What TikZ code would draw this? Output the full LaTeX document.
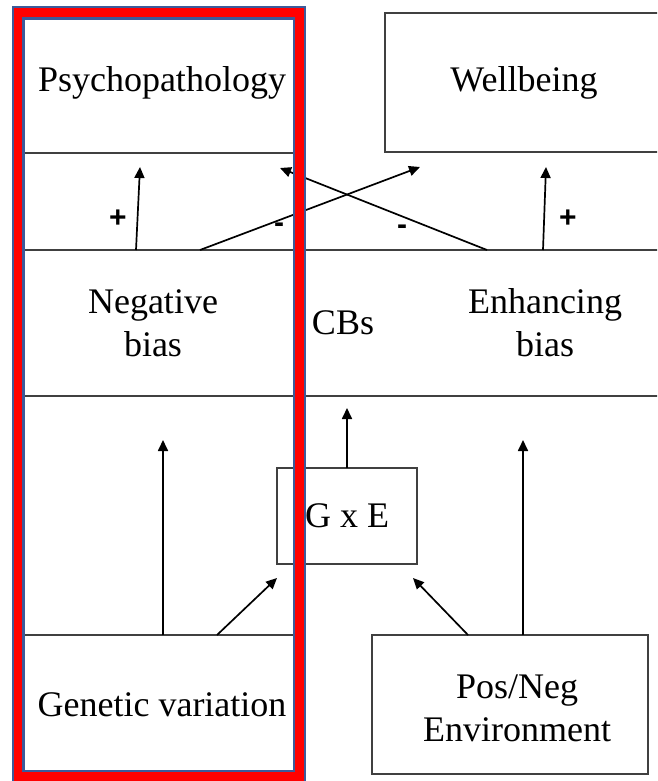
\documentclass[tikz,border=0pt]{standalone}
\usepackage{fontspec}
\setmainfont{Liberation Serif}
\newfontfamily\signfont{Liberation Sans}
\usepackage{xcolor}
\usetikzlibrary{arrows.meta}
\definecolor{frameblue}{HTML}{3C5A9A}

\begin{document}
\begin{tikzpicture}[
  x=1pt, y=-1pt,
  box/.style={draw=black!75, line width=1.4pt, inner sep=0pt, outer sep=0pt,
              align=center, font=\fontsize{36}{43}\selectfont},
  plain/.style={align=center, inner sep=0pt, font=\fontsize{36}{43}\selectfont},
  sign/.style={inner sep=0pt, font=\signfont\bfseries\fontsize{30}{30}\selectfont},
  arrow/.style={-{Triangle[length=11pt,width=10pt]}, line width=1.7pt, draw=black}
]
  \useasboundingbox (0,0) rectangle (657,781);
  \clip (0,0) rectangle (657,781);

  \node[box, minimum width=284pt, minimum height=140pt] (psy) at (162,83) {Psychopathology};
  \node[box, minimum width=278pt, minimum height=139pt] (wb) at (524,82.5) {Wellbeing};
  \node[box, minimum width=646pt, minimum height=146pt] (cbs) at (343,323) {CBs};
  \node[plain] (neg) at (153,323) {Negative\\bias};
  \node[plain] (enh) at (545,323) {Enhancing\\bias};
  \node[box, minimum width=140pt, minimum height=96pt] (gxe) at (347,516) {G x E};
  \node[box, minimum width=276pt, minimum height=139pt] (env) at (510,704.5) {};
  \node[plain] (envtext) at (517,708) {Pos/Neg\\Environment};
  \node[box, minimum width=284pt, minimum height=140pt] (gen) at (162,705) {Genetic variation};

  % biases to outcomes
  \draw[arrow] ([xshift=-207pt]cbs.north) -- ([xshift=-22pt,yshift=-14pt]psy.south);
  \draw[arrow] ([xshift=-143pt]cbs.north) -- ([xshift=-104pt,yshift=-15pt]wb.south);
  \draw[arrow] ([xshift=144pt]cbs.north) -- ([xshift=118pt,yshift=-15pt]psy.south);
  \draw[arrow] ([xshift=200pt]cbs.north) -- ([xshift=22pt,yshift=-15pt]wb.south);
  \node[sign] (s1) at (118,219) {+};
  \node[sign] (s2) at (279,228) {-};
  \node[sign] (s3) at (402,230) {-};
  \node[sign] (s4) at (568,219) {+};

  % causes to biases
  \draw[arrow] ([xshift=1pt]gen.north) -- ([xshift=-180pt,yshift=-44pt]cbs.south);
  \draw[arrow] ([xshift=55pt]gen.north) -- ([yshift=-14pt]gxe.south west);
  \draw[arrow] (gxe.north) -- ([xshift=4pt,yshift=-12pt]cbs.south);
  \draw[arrow] ([xshift=-42pt]env.north) -- ([xshift=-4pt,yshift=-14pt]gxe.south east);
  \draw[arrow] ([xshift=13pt]env.north) -- ([xshift=180pt,yshift=-44pt]cbs.south);

  % highlight frame
  \fill[red, even odd rule] (13,7) rectangle (305,790) (23.5,18.5) rectangle (294,771);
  \draw[frameblue, line width=2pt] (13,7) rectangle (305,790);
  \draw[frameblue, line width=2.5pt] (23.5,18.5) rectangle (294,771);
\end{tikzpicture}
\end{document}
